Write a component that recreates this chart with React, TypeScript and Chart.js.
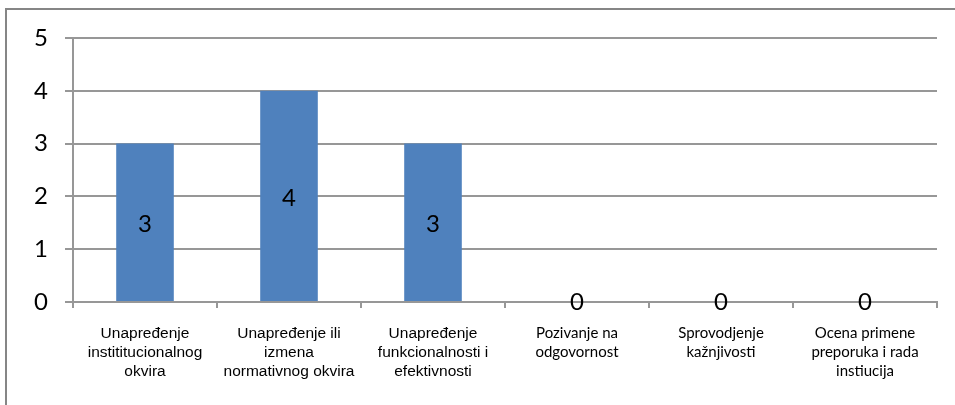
import React, { useEffect, useRef } from "react";
import { Chart, registerables } from "chart.js";

Chart.register(...registerables);

const categories: string[][] = [
  ["Unapređenje", "instititucionalnog", "okvira"],
  ["Unapređenje ili", "izmena", "normativnog okvira"],
  ["Unapređenje", "funkcionalnosti i", "efektivnosti"],
  ["Pozivanje na", "odgovornost"],
  ["Sprovodjenje", "kažnjivosti"],
  ["Ocena primene", "preporuka i rada", "instiucija"],
];
const values: number[] = [3, 4, 3, 0, 0, 0];
const yTicks: number[] = [0, 1, 2, 3, 4, 5];

const BAR = "#4F81BD";
const GRID = "#979797";
const BIG_FONT = "Lato, 'Open Sans', sans-serif";

const frame = {
  id: "frame",
  beforeDraw(chart: any) {
    const ctx = chart.ctx;
    ctx.save();
    ctx.fillStyle = "#ffffff";
    ctx.fillRect(0, 0, chart.width, chart.height);
    ctx.strokeStyle = "#868686";
    ctx.lineWidth = 2;
    ctx.beginPath();
    ctx.moveTo(6, chart.height);
    ctx.lineTo(6, 9);
    ctx.lineTo(chart.width, 9);
    ctx.stroke();
    ctx.restore();
  },
};

const valueLabels = {
  id: "valueLabels",
  afterDatasetsDraw(chart: any) {
    const ctx = chart.ctx;
    const meta = chart.getDatasetMeta(0);
    const data = chart.data.datasets[0].data as number[];
    ctx.save();
    ctx.font = `24px ${BIG_FONT}`;
    ctx.fillStyle = "#000000";
    ctx.textAlign = "center";
    ctx.textBaseline = "middle";
    meta.data.forEach((bar: any, i: number) => {
      const v = data[i];
      const y = v > 0 ? (bar.y + bar.base) / 2 + 2 : bar.base;
      ctx.fillText(String(v), bar.x, y);
    });
    ctx.restore();
  },
};

export default function App() {
  const ref = useRef<HTMLCanvasElement | null>(null);
  useEffect(() => {
    document.body.style.margin = "0";
    if (!ref.current) return;
    const chart = new Chart(ref.current, {
      type: "bar",
      data: {
        labels: categories,
        datasets: [
          {
            data: values,
            backgroundColor: BAR,
            barPercentage: 0.4,
            categoryPercentage: 1,
          },
        ],
      },
      options: {
        responsive: false,
        animation: false,
        layout: { padding: { left: 0, right: 18, top: 38, bottom: 0 } },
        plugins: {
          legend: { display: false },
          tooltip: { enabled: false },
        },
        scales: {
          x: {
            offset: true,
            grid: {
              display: true,
              drawOnChartArea: false,
              drawTicks: true,
              tickLength: 6,
              color: GRID,
              lineWidth: 2,
              offset: true,
            },
            border: { display: true, color: GRID, width: 2 },
            ticks: {
              autoSkip: false,
              maxRotation: 0,
              minRotation: 0,
              padding: 16,
              color: "#000000",
              font: (c: any) =>
                c.index < 3
                  ? { family: "'Liberation Sans', Arial, sans-serif", size: 15.5, lineHeight: "19px" }
                  : { family: "Lato, 'Open Sans', sans-serif", size: 15, lineHeight: "19px" },
            },
            afterFit: (s: any) => {
              s.height = 103;
            },
          },
          y: {
            min: 0,
            max: 5,
            afterBuildTicks: (s: any) => {
              s.ticks = yTicks.map((v) => ({ value: v }));
            },
            grid: {
              color: GRID,
              lineWidth: 2,
              tickLength: 8,
            },
            border: { display: true, color: GRID, width: 2 },
            ticks: {
              padding: 17,
              color: "#000000",
              font: { family: BIG_FONT, size: 24 },
            },
            afterFit: (s: any) => {
              s.width = 73;
            },
          },
        },
      },
      plugins: [frame, valueLabels],
    });
    return () => chart.destroy();
  }, []);
  return (
    <div style={{ width: 955, height: 405 }}>
      <canvas ref={ref} width={955} height={405} style={{ display: "block" }} />
    </div>
  );
}
